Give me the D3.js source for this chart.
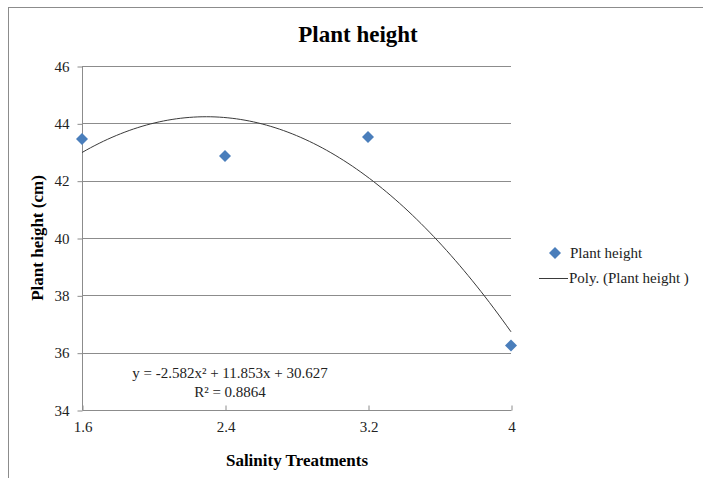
<!DOCTYPE html>
<html lang="en">
<head>
    <meta charset="UTF-8">
    <title>Plant height</title>
    <style>
      body { margin: 0; background: #fff; }
      svg text { font-family: "Liberation Serif", "Times New Roman", serif !important; }
    </style>
</head>
<body>
    <svg></svg>
    <script src="https://d3js.org/d3.v7.min.js"></script>
    <script>
    // data
    const salinity = [1.6, 2.4, 3.2, 4];
    const plantHeight = [43.45, 42.86, 43.52, 36.25];
    const xTicks = [1.6, 2.4, 3.2, 4];
    const yTicks = [34, 36, 38, 40, 42, 44, 46];
    // trendline y = a x^2 + b x + c (from the chart label)
    const trendCoef = [-2.582, 11.853, 30.627];
    const eqLabels = ['y = -2.582x² + 11.853x + 30.627', 'R² = 0.8864'];

    const W = 703, H = 478;
    const plot = { left: 82, right: 511, top: 66, bottom: 410 };

    const svg = d3.select('svg')
      .attr('width', W)
      .attr('height', H);

    // chart border
    svg.append('rect')
      .attr('x', 8.5).attr('y', 7.5)
      .attr('width', W + 10).attr('height', H + 10)
      .attr('fill', '#fff')
      .attr('stroke', '#8c8c8c');

    const x = d3.scaleLinear().domain([1.6, 4]).range([plot.left, plot.right]);
    const y = d3.scaleLinear().domain([34, 46]).range([plot.bottom, plot.top]);

    // gridlines
    svg.append('g')
      .selectAll('line')
      .data(yTicks.slice(1))
      .enter()
      .append('line')
      .attr('x1', plot.left).attr('x2', plot.right)
      .attr('y1', d => Math.round(y(d)) + 0.5).attr('y2', d => Math.round(y(d)) + 0.5)
      .attr('stroke', '#8c8c8c');

    // axes
    const yAxis = svg.append('g')
      .attr('transform', `translate(${plot.left + 0.5},0.5)`)
      .call(d3.axisLeft(y).tickValues(yTicks).tickSize(5).tickPadding(8).tickFormat(d3.format('d')));
    const xAxis = svg.append('g')
      .attr('transform', `translate(0.5,${plot.bottom + 0.5})`)
      .call(d3.axisBottom(x).tickValues(xTicks).tickSize(5).tickPadding(6).tickFormat(d => String(d)));

    [yAxis, xAxis].forEach(g => {
      g.attr('font-family', null);
      g.select('.domain').attr('stroke', '#8c8c8c');
      g.selectAll('.tick line').attr('stroke', '#8c8c8c');
      g.selectAll('.tick text')
        .attr('font-size', 15)
        .attr('fill', '#222');
    });
    xAxis.selectAll('.tick line').attr('y1', -5).attr('y2', 0);
    xAxis.select('.domain').attr('d', `M${plot.left},0H${plot.right}`);
    yAxis.select('.domain').attr('d', `M0,${plot.bottom}V${plot.top}`);

    // trendline
    const curveX = d3.range(0, 101).map(i => 1.6 + (4 - 1.6) * i / 100);
    const poly = v => trendCoef[0] * v * v + trendCoef[1] * v + trendCoef[2];
    svg.append('path')
      .datum(curveX)
      .attr('fill', 'none')
      .attr('stroke', '#3a3a3a')
      .attr('stroke-width', 1)
      .attr('d', d3.line().x(d => x(d)).y(d => y(poly(d))));

    // points
    const diamond = d3.symbol().type(d3.symbolSquare).size(72);
    svg.append('g')
      .selectAll('path')
      .data(salinity)
      .enter()
      .append('path')
      .attr('d', diamond)
      .attr('transform', (d, i) => `translate(${x(d)},${y(plantHeight[i])}) rotate(45)`)
      .attr('fill', '#4a7ebb');

    // equation label
    svg.append('g')
      .selectAll('text')
      .data(eqLabels)
      .enter()
      .append('text')
      .attr('x', 230)
      .attr('y', (d, i) => 378 + i * 19)
      .attr('text-anchor', 'middle')
      .attr('font-size', 15)
      .attr('fill', '#222')
      .text(d => d);

    // title and axis titles
    svg.append('text')
      .attr('x', 358).attr('y', 42)
      .attr('text-anchor', 'middle')
      .attr('font-size', 23).attr('font-weight', 'bold')
      .text('Plant height');

    svg.append('text')
      .attr('x', 297).attr('y', 466)
      .attr('text-anchor', 'middle')
      .attr('font-size', 17).attr('font-weight', 'bold')
      .text('Salinity Treatments');

    svg.append('text')
      .attr('transform', 'translate(43,238) rotate(-90)')
      .attr('text-anchor', 'middle')
      .attr('font-size', 17).attr('font-weight', 'bold')
      .text('Plant height (cm)');

    // legend
    const legend = svg.append('g');
    legend.append('path')
      .attr('d', diamond)
      .attr('transform', 'translate(555,253) rotate(45)')
      .attr('fill', '#4a7ebb');
    legend.append('text')
      .attr('x', 570).attr('y', 258)
      .attr('font-size', 15).attr('fill', '#222')
      .text('Plant height');
    legend.append('line')
      .attr('x1', 539).attr('x2', 568)
      .attr('y1', 278.5).attr('y2', 278.5)
      .attr('stroke', '#3a3a3a');
    legend.append('text')
      .attr('x', 569).attr('y', 283)
      .attr('font-size', 15).attr('fill', '#222')
      .text('Poly. (Plant height )');
    </script>
</body>
</html>
